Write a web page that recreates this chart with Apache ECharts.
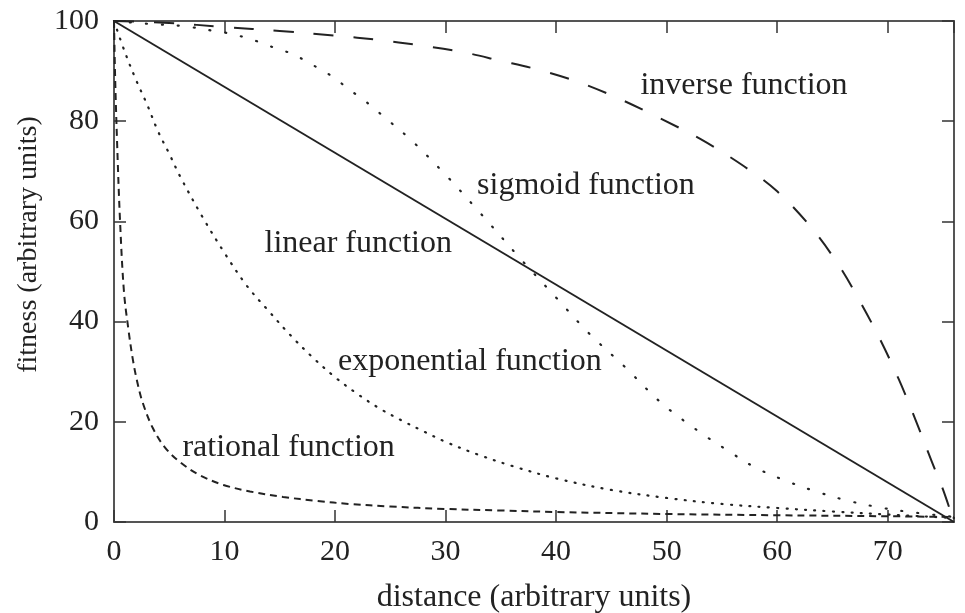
<!DOCTYPE html>
<html><head><meta charset="utf-8">
<script src="https://cdn.jsdelivr.net/npm/echarts@6/dist/echarts.min.js"></script>
<style>html,body{margin:0;padding:0;background:#fff}#c{width:965px;height:613px}</style>
</head><body><div id="c"></div>
<script>
const xTicks = [0, 10, 20, 30, 40, 50, 60, 70];
const yTicks = [0, 20, 40, 60, 80, 100];

const linearX = [0, 76];
const linearY = [100, 0];

const inverseX = [0, 5, 10, 15, 20, 24, 27.5, 31.3, 34.9, 38.7, 42.3, 45.8, 49.2, 53, 57, 60, 63, 65.5, 67.5, 69.3, 71, 72.5, 74, 75, 76];
const inverseY = [100, 99.6, 98.8, 98, 97.1, 96.2, 95.2, 93.9, 92.1, 90.1, 87.6, 84.4, 80.8, 76.5, 71, 66, 59, 51.5, 44, 36.5, 28.5, 20.5, 12, 6.5, 0];

const sigmoidX = [0, 3.3, 6.2, 9.1, 10.7, 12, 13.4, 14.8, 16.2, 17.5, 18.8, 20.1, 21.2, 22.4, 23.6, 24.8, 27, 30, 33, 37, 40, 43, 46.2, 49.5, 52.9, 55.5, 58, 60.7, 63.5, 66.3, 69.3, 72, 76];
const sigmoidY = [100, 99.4, 99, 98, 97.4, 96.6, 95.6, 94.4, 93.4, 91.8, 90.2, 88.4, 86.4, 84.6, 82.4, 80.2, 76, 69.3, 62, 52, 44.8, 37.6, 31, 23.8, 18.1, 14.3, 10.9, 8.3, 6.1, 4.3, 2.9, 2, 1];

const expX = [0, 1, 2, 3, 4, 5, 6, 8, 10, 12, 14, 16, 18, 20, 22, 24, 26, 28, 30, 33, 36, 40, 45, 50, 55, 60, 65, 70, 76];
const expY = [100, 93.7, 88.2, 83.3, 77.9, 73.5, 68.9, 60.9, 53.7, 47.2, 42.1, 37.2, 32.8, 28.9, 25.6, 22.7, 20.3, 18.1, 16, 13.4, 11.2, 8.7, 6.4, 4.8, 3.6, 2.8, 2.1, 1.5, 0.8];

const ratX = [0, 0.1, 0.27, 0.54, 0.9, 1.3, 1.7, 2.1, 2.6, 3.5, 4.6, 6, 7.8, 9.9, 12.3, 15.3, 18.4, 21.3, 25, 30, 35, 40, 50, 60, 70, 76];
const ratY = [100, 89, 76.4, 60.4, 46, 38.5, 32.5, 28, 23.8, 18.8, 14.9, 11.9, 9.3, 7.4, 6.1, 5, 4.2, 3.6, 3.1, 2.6, 2.3, 2, 1.6, 1.35, 1.15, 1];

const labelTexts = ['inverse function', 'sigmoid function', 'linear function', 'exponential function', 'rational function'];
const labelX = [57.0, 42.7, 22.1, 32.2, 15.8];
const labelY = [87.2, 67.1, 55.5, 32.1, 14.9];

const pairs = (xs, ys) => xs.map((v, i) => [v, ys[i]]);
const FONT = '"Liberation Serif", "Times New Roman", serif';
const INK = '#222';
const FRAME = '#555';

const chart = echarts.init(document.getElementById('c'), null, {renderer: 'canvas'});

const baseX = {
  type: 'value', min: 0, max: 76, interval: 10,
  splitLine: {show: false},
  axisLine: {show: true, onZero: false, lineStyle: {color: FRAME, width: 2}},
  axisTick: {show: true, inside: true, length: 12, lineStyle: {color: '#333', width: 1.5}}
};
const baseY = {
  type: 'value', min: 0, max: 100, interval: 20,
  splitLine: {show: false},
  axisLine: {show: true, onZero: false, lineStyle: {color: FRAME, width: 2}},
  axisTick: {show: true, inside: true, length: 12, lineStyle: {color: '#333', width: 1.5}}
};

const lineSeries = (name, xs, ys, dash, width, cap) => ({
  name, type: 'line', xAxisIndex: 0, yAxisIndex: 0,
  data: pairs(xs, ys), showSymbol: false, symbol: 'none',
  smooth: 0.35, animation: false,
  lineStyle: {color: INK, width: width, type: dash, cap: cap || 'butt'}
});

chart.setOption({
  animation: false,
  backgroundColor: '#fff',
  grid: {left: 114, right: 11, top: 21, bottom: 91, containLabel: false, outerBoundsMode: 'none'},
  xAxis: [
    Object.assign({}, baseX, {
      position: 'bottom',
      name: 'distance (arbitrary units)', nameLocation: 'middle', nameGap: 60,
      nameTextStyle: {fontFamily: FONT, fontSize: 32, color: INK},
      axisLabel: {show: true, margin: 15, fontFamily: FONT, fontSize: 30, color: INK, showMaxLabel: false,
        formatter: v => (xTicks.indexOf(v) >= 0 ? String(v) : '')}
    }),
    Object.assign({}, baseX, {position: 'top', axisLabel: {show: false}})
  ],
  yAxis: [
    Object.assign({}, baseY, {
      position: 'left',
      name: 'fitness (arbitrary units)', nameLocation: 'middle', nameGap: 71,
      nameTextStyle: {fontFamily: FONT, fontSize: 28, color: INK, padding: [0, 0, 0, 54]},
      axisLabel: {show: true, margin: 15, fontFamily: FONT, fontSize: 30, color: INK,
        formatter: v => (yTicks.indexOf(v) >= 0 ? String(v) : '')}
    }),
    Object.assign({}, baseY, {position: 'right', axisLabel: {show: false}})
  ],
  series: [
    lineSeries('linear', linearX, linearY, 'solid', 2),
    lineSeries('inverse', inverseX, inverseY, [20, 20], 2),
    lineSeries('sigmoid', sigmoidX, sigmoidY, [1, 15], 2.2, 'round'),
    lineSeries('exponential', expX, expY, [1, 8.3], 2.2, 'round'),
    lineSeries('rational', ratX, ratY, [7, 5], 2)
  ]
});

const graphics = labelTexts.map((t, i) => {
  const p = chart.convertToPixel({xAxisIndex: 0, yAxisIndex: 0}, [labelX[i], labelY[i]]);
  return {
    type: 'text', x: p[0], y: p[1], z: 100,
    style: {text: t, font: '32px ' + FONT, fill: INK, textAlign: 'center', textVerticalAlign: 'middle'}
  };
});
chart.setOption({graphic: graphics});
</script>
</body></html>
